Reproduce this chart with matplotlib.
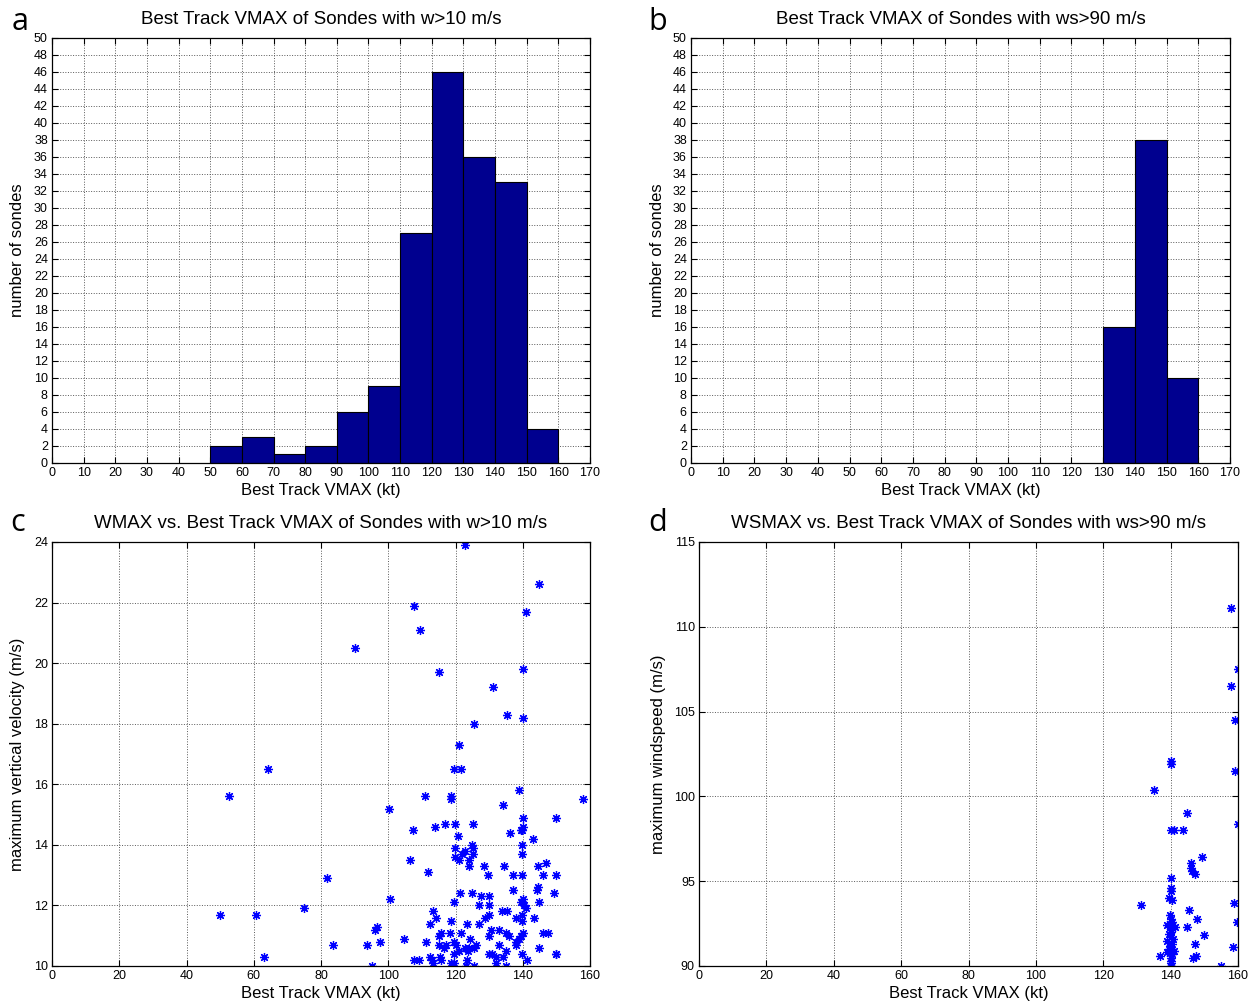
import matplotlib
matplotlib.use('Agg')
import matplotlib.pyplot as plt
import numpy as np

#---- histogram counts (10 kt bins) ----#
bins_a = [50, 60, 70, 80, 90, 100, 110, 120, 130, 140, 150]
counts_a = [2, 3, 1, 2, 6, 9, 27, 46, 36, 33, 4]

bins_b = [130, 140, 150]
counts_b = [16, 38, 10]

#---- WMAX vs VMAX, sondes with w > 10 m/s ----#
vmax_w = [50.0, 52.6, 60.7, 63.1, 64.3, 75.0, 81.7, 83.7, 90.0, 93.6,
          95.2, 96.0, 96.8, 97.5, 100.1, 100.6, 104.6, 106.4, 107.3, 107.7,
          107.8, 109.2, 109.5, 111.0, 111.3, 111.7, 112.5, 112.5, 113.0, 113.2,
          113.2, 114.0, 114.2, 115.0, 115.0, 115.2, 115.4, 115.7, 115.7, 116.6,
          117.0, 117.2, 118.4, 118.7, 118.7, 118.7, 118.7, 119.6, 119.6, 119.6,
          119.6, 119.6, 119.8, 119.8, 119.8, 120.2, 120.8, 121.1, 121.1, 121.1,
          121.4, 121.6, 121.6, 121.8, 122.8, 122.9, 122.9, 123.1, 123.4, 123.4,
          123.6, 123.9, 123.9, 124.1, 124.3, 124.8, 124.9, 125.1, 125.1, 125.2,
          125.4, 125.5, 125.6, 126.0, 126.9, 127.1, 127.6, 128.6, 128.8, 129.8,
          129.9, 129.9, 129.9, 129.9, 129.9, 130.6, 130.9, 131.2, 132.0, 132.0,
          132.8, 132.8, 133.9, 134.0, 134.2, 134.3, 134.9, 134.9, 135.0, 135.3,
          135.4, 135.8, 136.2, 137.0, 137.2, 137.9, 137.9, 137.9, 139.0, 139.0,
          139.5, 139.5, 139.5, 139.8, 139.8, 139.8, 139.8, 139.8, 139.8, 139.8,
          140.0, 140.0, 140.0, 140.0, 140.0, 140.2, 140.5, 140.9, 141.0, 141.2,
          143.1, 143.2, 144.3, 144.4, 144.6, 144.7, 144.8, 144.9, 145.9, 145.9,
          146.9, 147.4, 149.4, 149.9, 149.9, 149.9, 149.9, 158.0]
wmax = [11.7, 15.6, 11.7, 10.3, 16.5, 11.9, 12.9, 10.7, 20.5, 10.7,
        10.0, 11.2, 11.3, 10.8, 15.2, 12.2, 10.9, 13.5, 14.5, 21.9,
        10.2, 10.2, 21.1, 15.6, 10.8, 13.1, 11.4, 10.3, 10.2, 11.8,
        10.1, 14.6, 11.6, 11.0, 10.7, 19.7, 10.3, 11.1, 10.2, 10.6,
        14.7, 10.7, 11.1, 15.6, 15.5, 11.5, 10.1, 12.1, 10.8, 10.4,
        10.1, 16.5, 14.7, 13.9, 13.6, 10.7, 14.3, 13.5, 10.5, 17.3,
        12.4, 16.5, 11.1, 13.7, 10.6, 23.9, 13.8, 10.0, 11.4, 10.2,
        10.5, 13.5, 13.3, 10.6, 10.9, 14.0, 12.4, 13.9, 13.7, 14.7,
        18.0, 10.6, 10.0, 10.7, 11.4, 12.0, 12.3, 13.3, 11.6, 13.0,
        12.3, 12.0, 11.7, 11.0, 10.4, 11.2, 10.4, 19.2, 10.3, 10.1,
        11.2, 10.7, 11.8, 15.3, 10.3, 13.3, 11.1, 10.5, 10.0, 11.8,
        18.3, 11.0, 14.4, 12.5, 13.0, 11.6, 10.8, 10.7, 15.8, 10.9,
        14.5, 12.1, 11.0, 14.5, 14.0, 13.7, 13.0, 11.7, 11.5, 10.4,
        19.8, 18.2, 14.9, 12.2, 11.1, 14.6, 12.0, 21.7, 11.9, 10.2,
        14.2, 11.6, 12.5, 13.3, 12.6, 10.6, 12.1, 22.6, 13.0, 11.1,
        13.4, 11.1, 12.4, 14.9, 13.0, 10.4, 10.4, 15.5]

#---- WSMAX vs VMAX, sondes with ws > 90 m/s ----#
vmax_ws = [131.3, 135.0, 136.7, 139.0, 139.0, 139.0, 139.5, 139.5, 139.6, 139.7,
           139.8, 140.0, 140.0, 140.0, 140.0, 140.0, 140.0, 140.0, 140.0, 140.0,
           140.0, 140.0, 140.0, 140.0, 140.0, 140.2, 140.2, 140.3, 140.4, 140.4,
           140.5, 140.6, 140.9, 141.0, 141.2, 143.6, 145.0, 145.0, 145.5, 145.9,
           146.0, 146.3, 146.5, 147.1, 147.3, 147.5, 147.8, 149.4, 149.8, 155.0,
           158.0, 158.0, 158.4, 158.7, 159.1, 159.1, 159.7, 159.9, 159.9]
wsmax = [93.6, 100.4, 90.6, 92.4, 91.5, 90.8, 94.0, 91.9, 91.0, 93.0,
         91.2, 102.1, 101.9, 98.0, 95.2, 94.6, 94.4, 92.8, 92.4, 92.1,
         91.7, 91.1, 90.5, 90.2, 90.0, 92.0, 90.3, 90.7, 93.9, 91.3,
         92.6, 91.6, 98.0, 90.9, 92.3, 98.0, 99.0, 92.3, 93.3, 95.8,
         96.1, 95.6, 90.5, 95.4, 91.3, 90.6, 92.8, 96.4, 91.8, 90.0,
         111.1, 106.5, 91.1, 93.7, 104.5, 101.5, 92.6, 107.5, 98.4]

#---- figure setup ----#
plt.rcParams['font.family'] = ['Liberation Sans', 'DejaVu Sans']
plt.rcParams['font.size'] = 9

fig = plt.figure(figsize=(12.56, 10.06), dpi=100)

title_fs = 13.5
label_fs = 12

def make_axes(rect):
    ax = fig.add_axes(rect)
    ax.tick_params(axis='both', direction='in', which='both', top=True, right=True,
                   length=4, width=0.8, labelsize=9, pad=3)
    ax.grid(True, linestyle=':', color='0.35', linewidth=0.7)
    ax.set_axisbelow(True)
    for s in ax.spines.values():
        s.set_linewidth(0.9)
    return ax

bar_color = (0, 0, 0.5625)

ax1 = make_axes([52/1256, 1-463/1006, 538/1256, 425/1006])
ax1.bar(bins_a, counts_a, width=10, align='edge', color=bar_color, edgecolor='black', linewidth=0.8)
ax1.set_xlim(0, 170)
ax1.set_ylim(0, 50)
ax1.set_xticks(np.arange(0, 171, 10))
ax1.set_yticks(np.arange(0, 51, 2))
ax1.set_title('Best Track VMAX of Sondes with w>10 m/s', fontsize=title_fs, pad=10)
ax1.set_xlabel('Best Track VMAX (kt)', fontsize=label_fs, labelpad=3)
ax1.set_ylabel('number of sondes', fontsize=label_fs, labelpad=6)

ax2 = make_axes([691/1256, 1-463/1006, 539/1256, 425/1006])
ax2.bar(bins_b, counts_b, width=10, align='edge', color=bar_color, edgecolor='black', linewidth=0.8)
ax2.set_xlim(0, 170)
ax2.set_ylim(0, 50)
ax2.set_xticks(np.arange(0, 171, 10))
ax2.set_yticks(np.arange(0, 51, 2))
ax2.set_title('Best Track VMAX of Sondes with ws>90 m/s', fontsize=title_fs, pad=10)
ax2.set_xlabel('Best Track VMAX (kt)', fontsize=label_fs, labelpad=3)
ax2.set_ylabel('number of sondes', fontsize=label_fs, labelpad=6)

ax3 = make_axes([52/1256, 1-966/1006, 538/1256, 424/1006])
ax3.plot(vmax_w, wmax, linestyle='none', marker=(8, 2, 0), ms=6.5, mew=0.9, color='b')
ax3.set_xlim(0, 160)
ax3.set_ylim(10, 24)
ax3.set_xticks(np.arange(0, 161, 20))
ax3.set_yticks(np.arange(10, 25, 2))
ax3.set_title('WMAX vs. Best Track VMAX of Sondes with w>10 m/s', fontsize=title_fs, pad=10)
ax3.set_xlabel('Best Track VMAX (kt)', fontsize=label_fs, labelpad=3)
ax3.set_ylabel('maximum vertical velocity (m/s)', fontsize=label_fs, labelpad=6)

ax4 = make_axes([699/1256, 1-966/1006, 539/1256, 424/1006])
ax4.plot(vmax_ws, wsmax, linestyle='none', marker=(8, 2, 0), ms=6.5, mew=0.9, color='b')
ax4.set_xlim(0, 160)
ax4.set_ylim(90, 115)
ax4.set_xticks(np.arange(0, 161, 20))
ax4.set_yticks(np.arange(90, 116, 5))
ax4.set_title('WSMAX vs. Best Track VMAX of Sondes with ws>90 m/s', fontsize=title_fs, pad=10)
ax4.set_xlabel('Best Track VMAX (kt)', fontsize=label_fs, labelpad=3)
ax4.set_ylabel('maximum windspeed (m/s)', fontsize=label_fs, labelpad=6)

#---- panel letters ----#
for lbl, x, y in [('a', 12, 30), ('b', 648, 30), ('c', 10, 531), ('d', 648, 531)]:
    fig.text(x/1256, 1-y/1006, lbl, fontsize=22, family=['Open Sans', 'DejaVu Sans'])

plt.savefig('out.png', dpi=100)
